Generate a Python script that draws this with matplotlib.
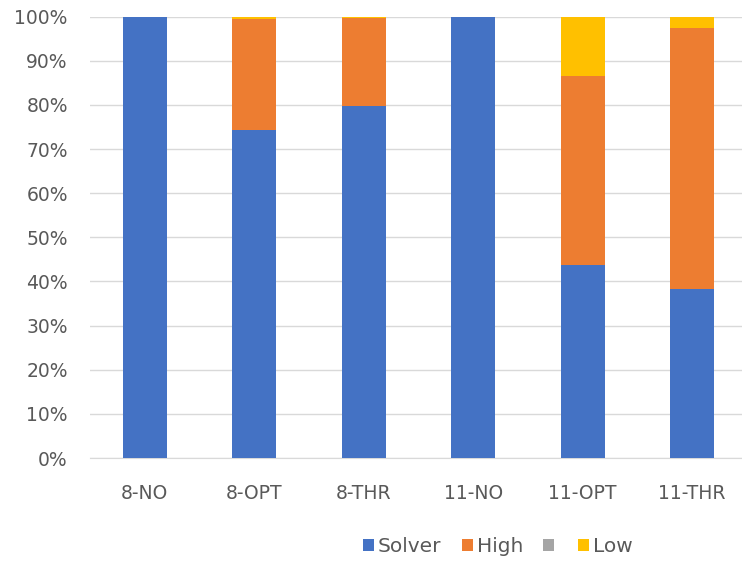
import numpy as np
import matplotlib
matplotlib.use("Agg")
import matplotlib.pyplot as plt
from matplotlib.patches import Patch
from matplotlib.ticker import PercentFormatter

categories = ["8-NO", "8-OPT", "8-THR", "11-NO", "11-OPT", "11-THR"]
series_names = ["Solver", "High", "", "Low"]
solver = [100, 74.3, 79.8, 100, 43.7, 38.3]
high = [0, 25.2, 20.0, 0, 42.9, 59.2]
medium = [0, 0, 0, 0, 0, 0]
low = [0, 0.5, 0.2, 0, 13.4, 2.5]
colors = ["#4472C4", "#ED7D31", "#A5A5A5", "#FFC000"]

plt.rcParams['font.family'] = ['DejaVu Sans']
txt = "#595959"

fig = plt.figure(figsize=(7.42, 5.61), dpi=100)
ax = fig.add_axes([90/742, 103/561, 657/742, 441.3/561])

x = np.arange(len(categories))
bottom = np.zeros(len(categories))
for vals, col in zip([solver, high, medium, low], colors):
    ax.bar(x, vals, width=0.40, bottom=bottom, color=col, zorder=3)
    bottom += np.array(vals)

ax.set_xlim(-0.5, len(categories) - 0.5)
ax.set_ylim(0, 100)
ax.set_yticks(np.arange(0, 101, 10))
ax.yaxis.set_major_formatter(PercentFormatter(decimals=0))
ax.set_xticks(x)
ax.set_xticklabels(categories)
ax.grid(axis="y", color="#D9D9D9", linewidth=1, zorder=0)
for s in ["top", "right", "left"]:
    ax.spines[s].set_visible(False)
ax.spines["bottom"].set_color("#D9D9D9")
ax.tick_params(axis="both", length=0, labelsize=13.5, colors=txt)
ax.tick_params(axis="y", pad=16)
ax.tick_params(axis="x", pad=19)

handles = [Patch(facecolor=c, edgecolor="none") for c in colors]
fig.legend(handles, series_names, loc="center", bbox_to_anchor=(498/742, 1 - 547/561),
           ncol=4, frameon=False, fontsize=14.5, labelcolor=txt,
           handlelength=0.55, handleheight=0.55, handletextpad=0.2, columnspacing=1.0)

fig.savefig("out.png", dpi=100)
